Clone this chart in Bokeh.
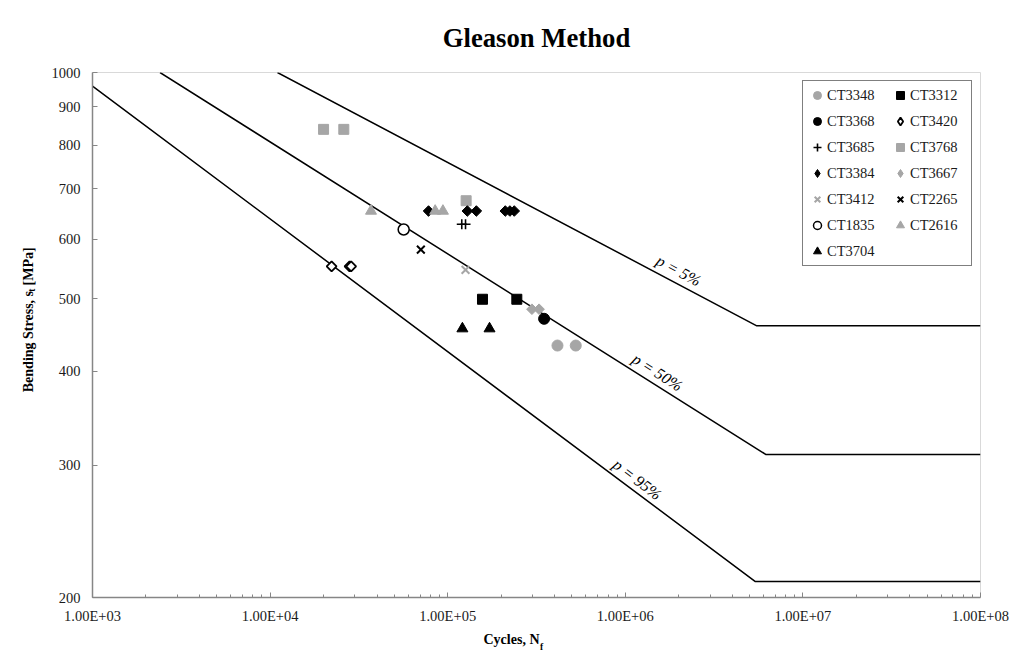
import math
from bokeh.plotting import figure
from bokeh.models import (Range1d, FixedTicker, CustomJSTickFormatter, PrintfTickFormatter,
                          ColumnDataSource, LogAxis, Legend, LegendItem)
from bokeh.core.properties import value
from bokeh.embed import file_html
from bokeh.resources import INLINE

# ---------------- data ----------------
title_text = "Gleason Method"
x_title = "Cycles, N"
x_title_sub = "f"
y_title = "Bending Stress, s"
y_title_sub = "t"
y_title_end = "[MPa]"

x_ticks = [1e3, 1e4, 1e5, 1e6, 1e7, 1e8]
y_ticks = [200, 300, 400, 500, 600, 700, 800, 900, 1000]

# design curves (cycles, stress)
curve_labels = ["p = 5%", "p = 50%", "p = 95%"]
p5_n = [1.1e4, 5.5e6, 1e8]
p5_s = [1000, 460, 460]
p50_n = [2.4e3, 6.2e6, 1e8]
p50_s = [1000, 310, 310]
p95_n = [1e3, 5.4e6, 1e8]
p95_s = [959, 210, 210]
curve_label_n = [2.0e6, 1.52e6, 1.17e6]

# test series
ct3348_n = [4.15e5, 5.26e5];                    ct3348_s = [433, 433]
ct3312_n = [1.57e5, 2.45e5];                    ct3312_s = [499, 499]
ct3368_n = [3.49e5];                            ct3368_s = [470]
ct3420_n = [2.22e4, 2.80e4, 2.86e4];            ct3420_s = [552, 552, 552]
ct3685_n = [1.20e5, 1.26e5];                    ct3685_s = [628, 628]
ct3768_n = [2.0e4, 2.6e4, 1.27e5];              ct3768_s = [840, 840, 675]
ct3384_n = [7.8e4, 1.29e5, 1.45e5, 2.11e5, 2.24e5, 2.37e5]
ct3384_s = [654, 654, 654, 654, 654, 654]
ct3667_n = [2.98e5, 3.27e5];                    ct3667_s = [484, 484]
ct3412_n = [1.26e5];                            ct3412_s = [546]
ct2265_n = [7.06e4];                            ct2265_s = [581]
ct1835_n = [5.65e4];                            ct1835_s = [618]
ct2616_n = [3.7e4, 8.5e4, 9.4e4];               ct2616_s = [654, 654, 654]
ct3704_n = [1.21e5, 1.72e5];                    ct3704_s = [456, 456]

# ---------------- figure ----------------
FONT = "Liberation Serif"
BLACK = "#000000"
GRAY = "#A6A6A6"
TXT = "#1a1a1a"

W, H = 1020, 654
ML, MR, MT, MB = 92, 40, 72, 49
FW, FH = W - ML - MR, H - MT - MB

p = figure(width=W, height=H, x_axis_type="log", y_axis_type="log",
           x_range=Range1d(x_ticks[0], x_ticks[-1]), y_range=Range1d(y_ticks[0], y_ticks[-1]),
           output_backend="svg", toolbar_location=None,
           min_border_left=ML, min_border_right=MR, min_border_top=MT, min_border_bottom=MB)
p.background_fill_color = "white"
p.border_fill_color = "white"
p.outline_line_color = "#d9d9d9"
p.outline_line_width = 1
p.xgrid.visible = False
p.ygrid.visible = False

p.title.text = title_text
p.title.align = "center"
p.title.text_font = FONT
p.title.text_font_size = "26.7px"
p.title.text_font_style = "bold"
p.title.text_color = BLACK
p.title.offset = -6
p.title.standoff = 40

minor = [k * 10 ** d for d in range(3, 8) for k in range(2, 10)]
p.xaxis.ticker = FixedTicker(ticks=x_ticks, minor_ticks=minor)
p.yaxis.ticker = FixedTicker(ticks=y_ticks, minor_ticks=[])
p.xaxis.formatter = CustomJSTickFormatter(code="""
const s = tick.toExponential(2).toUpperCase();
const parts = s.split("E");
let ex = parseInt(parts[1]);
const sign = ex < 0 ? "-" : "+";
ex = Math.abs(ex);
return parts[0] + "E" + sign + (ex < 10 ? "0" : "") + ex;
""")
p.yaxis.formatter = PrintfTickFormatter(format="%d")

for ax in (p.xaxis, p.yaxis):
    ax.axis_line_color = "#868686"
    ax.axis_line_width = 1.5
    ax.major_tick_line_color = "#868686"
    ax.minor_tick_line_color = "#868686"
    ax.major_tick_in = 5
    ax.major_tick_out = 0
    ax.minor_tick_in = 3
    ax.minor_tick_out = 0
    ax.major_label_text_font = FONT
    ax.major_label_text_font_size = "14.5px"
    ax.major_label_text_color = TXT
p.xaxis.major_label_standoff = 10
p.yaxis.major_label_standoff = 12

# helpers: frame pixel offset -> data value (used only to place axis-title texts)
lx0, lx1 = math.log10(x_ticks[0]), math.log10(x_ticks[-1])
ly0, ly1 = math.log10(y_ticks[0]), math.log10(y_ticks[-1])
def x_at(px):
    return 10 ** (lx0 + px / FW * (lx1 - lx0))
def y_at(px):
    return 10 ** (ly0 + px / FH * (ly1 - ly0))

def title_axis(side, positions, labels, size, standoff, vertical=False):
    fmt = CustomJSTickFormatter(args=dict(pos=positions, labels=labels), code="""
for (let i = 0; i < pos.length; i++) {
  if (Math.abs(pos[i] - tick) / pos[i] < 1e-6) return labels[i];
}
return "";
""")
    ax = LogAxis(ticker=FixedTicker(ticks=positions, minor_ticks=[]), formatter=fmt)
    ax.axis_line_color = None
    ax.major_tick_line_color = None
    ax.minor_tick_line_color = None
    ax.major_tick_in = 0
    ax.major_tick_out = 0
    ax.major_label_standoff = standoff
    ax.major_label_text_font = FONT
    ax.major_label_text_font_style = "bold"
    ax.major_label_text_font_size = size
    ax.major_label_text_color = BLACK
    if vertical:
        ax.major_label_orientation = "vertical"
    p.add_layout(ax, side)
    return ax

# x-axis title "Cycles, N" with subscript "f"
title_axis("below", [x_at(419)], [x_title], "14px", 5)
title_axis("below", [x_at(449)], [x_title_sub], "9.5px", -8)
# y-axis title "Bending Stress, s" subscript "t" "[MPa]"
title_axis("left", [y_at(259.8), y_at(336.2)], [y_title, y_title_end], "14px", 12, vertical=True)
title_axis("left", [y_at(312.1)], [y_title_sub], "9.5px", -19, vertical=True)

# ---------------- design curves ----------------
curves = [(p5_n, p5_s), (p50_n, p50_s), (p95_n, p95_s)]
for cn, cs in curves:
    p.line(cn, cs, line_color=BLACK, line_width=1.5)

px_per_dec_x = FW / (lx1 - lx0)
px_per_dec_y = FH / (ly1 - ly0)
tx, ty, ta = [], [], []
for (cn, cs), ln in zip(curves, curve_label_n):
    slope = (math.log10(cs[1]) - math.log10(cs[0])) / (math.log10(cn[1]) - math.log10(cn[0]))
    ls = 10 ** (math.log10(cs[0]) + slope * (math.log10(ln) - math.log10(cn[0])))
    tx.append(ln)
    ty.append(ls)
    ta.append(math.atan(slope * px_per_dec_y / px_per_dec_x))
src = ColumnDataSource(dict(x=tx, y=ty, text=curve_labels, angle=ta))
p.text(x="x", y="y", text="text", angle="angle", source=src,
       text_font=value(FONT), text_font_size="16px", text_font_style="italic",
       text_color=BLACK, text_align="center", text_baseline="middle", y_offset=-14)

# ---------------- test data ----------------
D = math.pi / 4
NAN = float("nan")
items = []
def sc(n, s, name, marker, color, size, fill=None, lw=1.0, angle=0.0, legend_marker=None):
    fc = color if fill is None else fill
    r = p.scatter(n, s, marker=marker, size=size, angle=angle,
                  fill_color=fc, line_color=color, line_width=lw)
    if legend_marker is not None:
        # legend-only glyph (legends do not rotate markers)
        r = p.scatter(x=[NAN], y=[NAN], marker=legend_marker, size=size,
                      fill_color=fc, line_color=color, line_width=lw)
    items.append(LegendItem(label=name, renderers=[r]))

sc(ct3348_n, ct3348_s, "CT3348", "circle", GRAY, 11)
sc(ct3312_n, ct3312_s, "CT3312", "square", BLACK, 10)
sc(ct3368_n, ct3368_s, "CT3368", "circle", BLACK, 11)
sc(ct3420_n, ct3420_s, "CT3420", "square", BLACK, 7, fill="white", lw=1.8, angle=D, legend_marker="diamond")
sc(ct3685_n, ct3685_s, "CT3685", "cross", BLACK, 10, lw=1.6)
sc(ct3768_n, ct3768_s, "CT3768", "square", GRAY, 10)
sc(ct3384_n, ct3384_s, "CT3384", "square", BLACK, 7.5, angle=D, legend_marker="diamond")
sc(ct3667_n, ct3667_s, "CT3667", "square", GRAY, 7.5, angle=D, legend_marker="diamond")
sc(ct3412_n, ct3412_s, "CT3412", "x", GRAY, 11, lw=2)
sc(ct2265_n, ct2265_s, "CT2265", "x", BLACK, 11, lw=2)
sc(ct1835_n, ct1835_s, "CT1835", "circle", BLACK, 11, fill="white", lw=1.5)
sc(ct2616_n, ct2616_s, "CT2616", "triangle", GRAY, 11)
sc(ct3704_n, ct3704_s, "CT3704", "triangle", BLACK, 11)

leg = Legend(items=items)
leg.orientation = "horizontal"
leg.ncols = 2
leg.location = "top_right"
leg.margin = 8
leg.padding = 4
leg.spacing = 6
leg.glyph_width = 20
leg.glyph_height = 20
leg.label_standoff = 0
leg.label_width = 57
leg.label_text_font = FONT
leg.label_text_font_size = "14.5px"
leg.label_text_color = TXT
leg.border_line_color = BLACK
leg.border_line_width = 1
leg.background_fill_color = "white"
leg.background_fill_alpha = 1.0
p.add_layout(leg)

open("out.html", "w").write(file_html(p, INLINE))
